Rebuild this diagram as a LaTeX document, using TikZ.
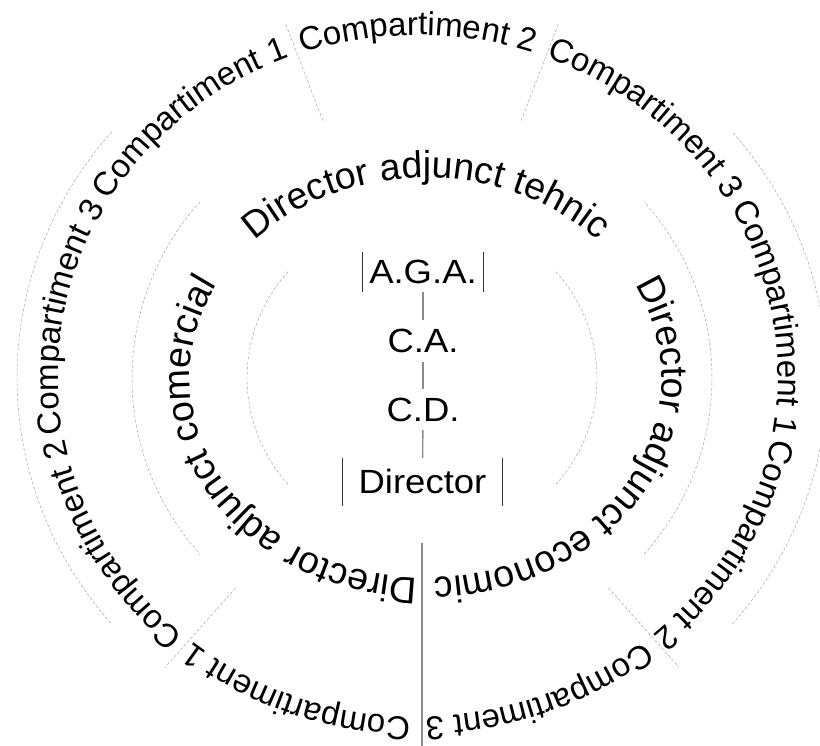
\documentclass[tikz,border=0pt]{standalone}
\usepackage{fontspec}
\setmainfont{Liberation Sans}
\usetikzlibrary{decorations.text,calc}

\newcommand\ringfont{\fontsize{33}{38}\selectfont}
\newcommand\deptfont{\fontsize{37.5}{44}\selectfont}
\newcommand\postfont{\fontsize{36.5}{42}\selectfont}

\definecolor{spinegray}{HTML}{8C8C8C}
\definecolor{edgegray}{HTML}{333333}

\begin{document}
\begin{tikzpicture}[x=1pt,y=1pt,
  faint/.style={draw=gray!75, line width=0.45pt, dash pattern=on 3pt off 2pt},
  spine/.style={draw=spinegray, line width=1.4pt},
  bar/.style={draw=edgegray, line width=0.9pt},
  post/.style={font=\postfont, inner sep=0pt, yscale=0.92},
  ring text/.style={decorate, decoration={text along path, text align=center, text={#1}}}
]
\useasboundingbox (0,0) rectangle (820,746);
\clip (0,0) rectangle (820,746);

% centre of the rings, of the department labels and of the compartment labels
\coordinate (c)  at (422,368);
\coordinate (cm) at (426,368);
\coordinate (ct) at (418,370);

% three rings, drawn as faint dashed arcs on both sides
\foreach \rx/\ry in {175/165.4, 290/274, 405/383}{
  \draw[faint] (c) ++(140:\rx pt and \ry pt)
     arc[start angle=140, end angle=220, x radius=\rx pt, y radius=\ry pt];
  \draw[faint] (c) ++(-40:\rx pt and \ry pt)
     arc[start angle=-40, end angle=40, x radius=\rx pt, y radius=\ry pt];
}

% compartment boundaries in the outer ring
\foreach \a in {70,110,230,310}
  \draw[faint] ($(c)+(\a:290pt and 274pt)$) -- ($(c)+(\a:400pt and 378pt)$);

% boundary between the commercial and the economic departments
\draw[spine] ($(c)+(270:175pt and 165.4pt)$) -- ($(c)+(270:405pt and 383pt)$);

% management chain in the centre
\node[post, minimum width=120, minimum height=43.5] (aga) at (423,474) {A.G.A.};
\node[post, minimum width=110, minimum height=45.7] (ca)  at (423,405) {C.A.};
\node[post, minimum width=110, minimum height=44.6] (cd)  at (423,336.5) {C.D.};
\node[post, minimum width=159, minimum height=52.2] (dir) at (422.5,264) {Director};

\draw[bar] (aga.north west) -- (aga.south west);
\draw[bar] (aga.north east) -- (aga.south east);
\draw[bar] (dir.north west) -- (dir.south west);
\draw[bar] (dir.north east) -- (dir.south east);

\draw[spine] (aga) -- (ca);
\draw[spine] (ca) -- (cd);
\draw[spine] (cd) -- (dir);

% deputy directors, middle ring
\path[ring text={|\deptfont|Director adjunct comercial}] (cm) ++(270:236pt and 200pt)
  arc[start angle=270, end angle=150, x radius=236pt, y radius=200pt];
\path[ring text={|\deptfont|Director adjunct tehnic}] (cm) ++(150:236pt and 200pt)
  arc[start angle=150, end angle=30, x radius=236pt, y radius=200pt];
\path[ring text={|\deptfont|Director adjunct economic}] (cm) ++(30:236pt and 200pt)
  arc[start angle=30, end angle=-90, x radius=236pt, y radius=200pt];

% compartments, outer ring
\path[ring text={|\ringfont|Compartiment 1}] (ct) ++(270:360pt and 341pt)
  arc[start angle=270, end angle=230, x radius=360pt, y radius=341pt];
\path[ring text={|\ringfont|Compartiment 2}] (ct) ++(230:360pt and 341pt)
  arc[start angle=230, end angle=190, x radius=360pt, y radius=341pt];
\path[ring text={|\ringfont|Compartiment 3}] (ct) ++(190:360pt and 341pt)
  arc[start angle=190, end angle=150, x radius=360pt, y radius=341pt];
\path[ring text={|\ringfont|Compartiment 1}] (ct) ++(150:360pt and 341pt)
  arc[start angle=150, end angle=110, x radius=360pt, y radius=341pt];
\path[ring text={|\ringfont|Compartiment 2}] (ct) ++(110:360pt and 341pt)
  arc[start angle=110, end angle=70, x radius=360pt, y radius=341pt];
\path[ring text={|\ringfont|Compartiment 3}] (ct) ++(70:360pt and 341pt)
  arc[start angle=70, end angle=30, x radius=360pt, y radius=341pt];
\path[ring text={|\ringfont|Compartiment 1}] (ct) ++(30:360pt and 341pt)
  arc[start angle=30, end angle=-10, x radius=360pt, y radius=341pt];
\path[ring text={|\ringfont|Compartiment 2}] (ct) ++(-10:360pt and 341pt)
  arc[start angle=-10, end angle=-50, x radius=360pt, y radius=341pt];
\path[ring text={|\ringfont|Compartiment 3}] (ct) ++(-50:360pt and 341pt)
  arc[start angle=-50, end angle=-90, x radius=360pt, y radius=341pt];
\end{tikzpicture}
\end{document}
